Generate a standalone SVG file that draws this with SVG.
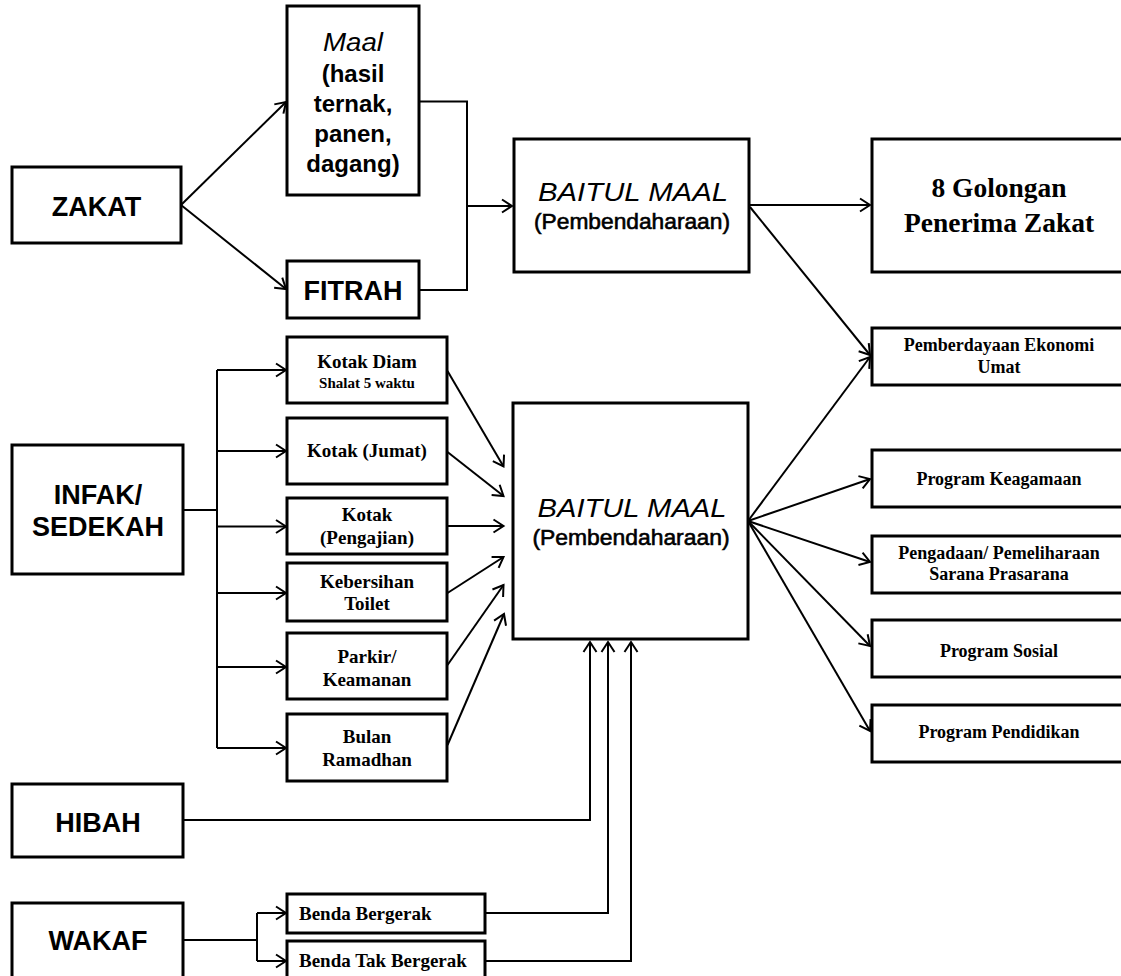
<svg xmlns="http://www.w3.org/2000/svg" width="1121" height="976" viewBox="0 0 1121 976">
<defs>
<style>
.box{fill:#fff;stroke:#000;stroke-width:3}
.conn{fill:none;stroke:#000;stroke-width:2}
.arr{marker-end:url(#ah)}
text{text-anchor:middle;fill:#000}
.sans{font-family:"Liberation Sans",Arial,sans-serif;font-weight:bold;font-size:27px}
.mid{font-family:"Liberation Sans",Arial,sans-serif;font-weight:bold;font-size:24px}
.it{font-family:"Liberation Sans",Arial,sans-serif;font-style:italic;font-weight:normal}
.reg{font-family:"Liberation Sans",Arial,sans-serif;font-weight:normal;font-size:22px;stroke:#000;stroke-width:0.6}
.serif{font-family:"Liberation Serif","Times New Roman",serif;font-weight:bold;font-size:19px}
.big{font-family:"Liberation Serif","Times New Roman",serif;font-weight:bold;font-size:27.5px}
.s18{font-family:"Liberation Serif","Times New Roman",serif;font-weight:bold;font-size:18px}
.s15{font-family:"Liberation Serif","Times New Roman",serif;font-weight:bold;font-size:15px}
.left{text-anchor:start}
</style>
<marker id="ah" markerUnits="userSpaceOnUse" markerWidth="16" markerHeight="16" viewBox="-12 -8 14 16" refX="0" refY="0" orient="auto" overflow="visible">
<path d="M-10,-6.5 L0,0 L-10,6.5" fill="none" stroke="#000" stroke-width="2"/>
</marker>
</defs>
<rect width="1121" height="976" fill="#fff"/>

<g id="connectors">
<path class="conn arr" d="M181,205 L286,102"/>
<path class="conn arr" d="M181,205 L286,289"/>
<path class="conn" d="M419,101.5 H467 V290 H419"/>
<path class="conn arr" d="M467,206 H512"/>
<path class="conn arr" d="M749,205 H870"/>
<path class="conn arr" d="M750,207 L870,355"/>
<path class="conn arr" d="M748,521 L870,357"/>
<path class="conn arr" d="M748,521 L870,479"/>
<path class="conn arr" d="M748,521 L870,562"/>
<path class="conn arr" d="M748,521 L870,646"/>
<path class="conn arr" d="M748,521 L870,731"/>
<path class="conn" d="M183,510 H217"/>
<path class="conn" d="M217,370 V748"/>
<path class="conn arr" d="M217,370 H286"/>
<path class="conn arr" d="M217,451 H286"/>
<path class="conn arr" d="M217,526.5 H286"/>
<path class="conn arr" d="M217,593 H286"/>
<path class="conn arr" d="M217,667 H286"/>
<path class="conn arr" d="M217,748 H286"/>
<path class="conn arr" d="M447.5,371 L503.5,466.5"/>
<path class="conn arr" d="M447.5,452 L503.5,496"/>
<path class="conn arr" d="M447.5,526 L503.5,526"/>
<path class="conn arr" d="M447.5,593 L503.5,557"/>
<path class="conn arr" d="M447.5,665 L503.5,585"/>
<path class="conn arr" d="M447.5,745 L504,614"/>
<path class="conn arr" d="M183,820 H590 V642"/>
<path class="conn" d="M183,940 H257"/>
<path class="conn" d="M257,913 V961"/>
<path class="conn arr" d="M257,913 H286"/>
<path class="conn arr" d="M257,961 H286"/>
<path class="conn arr" d="M485,913 H608 V642"/>
<path class="conn arr" d="M485,961 H631 V642"/>
</g>

<g id="zakat"><rect class="box" x="12" y="167" width="169" height="76"/><text class="sans" x="96.5" y="216">ZAKAT</text></g>

<g id="maal"><rect class="box" x="287" y="6" width="132" height="189"/>
<text class="it" x="353" y="50.5" font-size="25" textLength="60" lengthAdjust="spacingAndGlyphs">Maal</text>
<text class="mid" x="353" y="81.5">(hasil</text>
<text class="mid" x="353" y="111.5">ternak,</text>
<text class="mid" x="353" y="141.5">panen,</text>
<text class="mid" x="353" y="171.5">dagang)</text></g>

<g id="fitrah"><rect class="box" x="287" y="261" width="132" height="57"/><text class="sans" x="353" y="300">FITRAH</text></g>

<g id="baitul-top"><rect class="box" x="514" y="139" width="235" height="133"/>
<text class="it" x="633" y="200.5" font-size="26" textLength="190" lengthAdjust="spacingAndGlyphs">BAITUL MAAL</text>
<text class="reg" x="632" y="229" textLength="196" lengthAdjust="spacingAndGlyphs">(Pembendaharaan)</text></g>

<g id="golongan"><rect class="box" x="872" y="139" width="260" height="133"/>
<text class="big" x="999" y="197">8 Golongan</text>
<text class="big" x="999" y="231.5">Penerima Zakat</text></g>

<g id="pemberdayaan"><rect class="box" x="872" y="328" width="260" height="57"/>
<text class="s18" x="999" y="350.5">Pemberdayaan Ekonomi</text>
<text class="s18" x="999" y="373">Umat</text></g>

<g id="infak"><rect class="box" x="12" y="445" width="171" height="129"/>
<text class="sans" x="98" y="503.5">INFAK/</text>
<text class="sans" x="98" y="535.5">SEDEKAH</text></g>

<g id="kotak-diam"><rect class="box" x="287" y="337" width="160" height="66"/>
<text class="serif" x="367" y="368">Kotak Diam</text>
<text class="s15" x="367" y="387.5">Shalat 5 waktu</text></g>

<g id="kotak-jumat"><rect class="box" x="287" y="418" width="160" height="66"/>
<text class="serif" x="367" y="457">Kotak (Jumat)</text></g>

<g id="kotak-pengajian"><rect class="box" x="287" y="498" width="160" height="56"/>
<text class="serif" x="367" y="521">Kotak</text>
<text class="serif" x="367" y="544">(Pengajian)</text></g>

<g id="kebersihan"><rect class="box" x="287" y="563" width="160" height="58"/>
<text class="serif" x="367" y="588">Kebersihan</text>
<text class="serif" x="367" y="610">Toilet</text></g>

<g id="parkir"><rect class="box" x="287" y="633" width="160" height="66"/>
<text class="serif" x="367" y="662.5">Parkir/</text>
<text class="serif" x="367" y="686">Keamanan</text></g>

<g id="ramadhan"><rect class="box" x="287" y="714" width="160" height="67"/>
<text class="serif" x="367" y="743">Bulan</text>
<text class="serif" x="367" y="766">Ramadhan</text></g>

<g id="baitul-bottom"><rect class="box" x="513" y="403" width="235" height="236"/>
<text class="it" x="632" y="516.5" font-size="26" textLength="189" lengthAdjust="spacingAndGlyphs">BAITUL MAAL</text>
<text class="reg" x="631" y="545" textLength="197" lengthAdjust="spacingAndGlyphs">(Pembendaharaan)</text></g>

<g id="keagamaan"><rect class="box" x="872" y="450" width="260" height="57"/>
<text class="s18" x="999" y="485">Program Keagamaan</text></g>

<g id="pengadaan"><rect class="box" x="872" y="536" width="260" height="57"/>
<text class="s18" x="999" y="558.5">Pengadaan/ Pemeliharaan</text>
<text class="s18" x="999" y="580">Sarana Prasarana</text></g>

<g id="sosial"><rect class="box" x="872" y="620" width="260" height="57"/>
<text class="s18" x="999" y="656.5">Program Sosial</text></g>

<g id="pendidikan"><rect class="box" x="872" y="705" width="260" height="57"/>
<text class="s18" x="999" y="738">Program Pendidikan</text></g>

<g id="hibah"><rect class="box" x="12" y="784" width="171" height="73"/>
<text class="sans" x="98" y="832">HIBAH</text></g>

<g id="wakaf"><rect class="box" x="12" y="903" width="171" height="85"/>
<text class="sans" x="98" y="950">WAKAF</text></g>

<g id="benda-bergerak"><rect class="box" x="287" y="894" width="198" height="39"/>
<text class="serif left" x="299" y="919.5" font-size="18.5">Benda Bergerak</text></g>

<g id="benda-tak-bergerak"><rect class="box" x="287" y="941" width="198" height="45"/>
<text class="serif left" x="299" y="967" font-size="18.5">Benda Tak Bergerak</text></g>
</svg>
